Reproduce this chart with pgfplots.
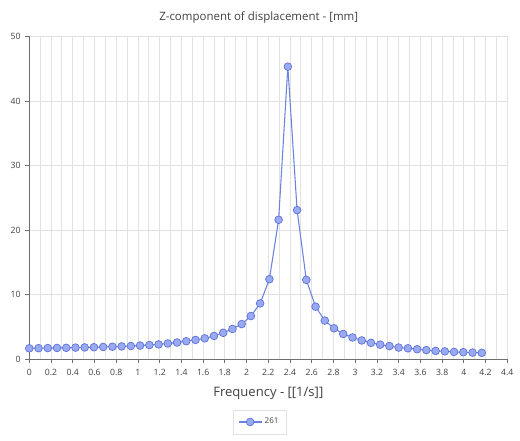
\documentclass[border=0pt]{standalone}
\usepackage{pgfplots}
\pgfplotsset{compat=1.18}
\usepackage{fontspec}
\setmainfont{Open Sans}
\definecolor{lineblue}{HTML}{6A82E2}
\definecolor{markfill}{HTML}{9AAAF2}
\definecolor{markedge}{HTML}{5A6ED6}
\definecolor{gridc}{HTML}{E2E2E2}
\definecolor{axisc}{HTML}{6E6E6E}
\definecolor{textc}{HTML}{404040}
\begin{document}
\begin{tikzpicture}
\begin{axis}[
  scale only axis, width=358.5pt, height=242.25pt,
  xmin=0, xmax=4.4, ymin=0, ymax=50,
  axis x line=bottom, axis y line=left,
  axis line style={axisc, line width=0.75pt, -},
  xtick distance=0.2, ytick distance=10,
  minor x tick num=1,
  xmajorgrids, xminorgrids, ymajorgrids,
  grid style={gridc, line width=0.6pt},
  minor grid style={gridc, line width=0.6pt},
  major tick length=3pt, minor tick length=0pt,
  tick align=outside,
  tick style={axisc, line width=0.6pt},
  xticklabel style={font=\fontsize{6.5}{7}\selectfont, text=textc, yshift=-1pt},
  yticklabel style={font=\fontsize{6.5}{7}\selectfont, text=textc},
  /pgf/number format/assume math mode=true,
  /pgf/number format/.cd, fixed, /pgfplots/.cd,
  scaled ticks=false,
  xlabel={Frequency - [[1/s]]},
  xlabel style={font=\fontsize{9.8}{12}\selectfont, text=textc, at={(0.5,-0.105)}, anchor=center},
  legend style={at={(0.482,-0.194)}, anchor=center, font=\fontsize{6}{7}\selectfont, draw=gridc, text=textc, inner xsep=4pt, inner ysep=4pt, row sep=0pt},
  legend cell align=left,
  clip=false,
]
\addplot[lineblue, line width=0.8pt, mark=*, mark size=2.9pt,
  mark options={fill=markfill, draw=markedge, line width=0.5pt}]
coordinates {
(0.000,1.70) (0.085,1.72) (0.170,1.74) (0.255,1.76) (0.340,1.78)
(0.425,1.81) (0.510,1.84) (0.595,1.87) (0.680,1.91) (0.765,1.95)
(0.850,2.00) (0.935,2.06) (1.020,2.13) (1.105,2.21) (1.190,2.31)
(1.275,2.45) (1.360,2.60) (1.445,2.80) (1.530,3.00) (1.615,3.25)
(1.700,3.62) (1.785,4.10) (1.870,4.70) (1.955,5.45) (2.040,6.70)
(2.125,8.65) (2.210,12.40) (2.295,21.60) (2.380,45.30) (2.465,23.10)
(2.550,12.30) (2.635,8.15) (2.720,6.00) (2.805,4.80) (2.890,3.92)
(2.975,3.38) (3.060,2.92) (3.145,2.55) (3.230,2.27) (3.315,2.05)
(3.400,1.82) (3.485,1.70) (3.570,1.56) (3.655,1.42) (3.740,1.30)
(3.825,1.23) (3.910,1.14) (3.995,1.10) (4.080,1.04) (4.165,1.00)
};
\addlegendentry{261}
\node[font=\fontsize{8.6}{10}\selectfont, text=textc, anchor=center] at (rel axis cs:0.48,1.057) {Z-component of displacement - [mm]};
\path (rel axis cs:-0.0613,-0.2529) rectangle (rel axis cs:1.0266,1.1124);
\end{axis}
\end{tikzpicture}
\end{document}
